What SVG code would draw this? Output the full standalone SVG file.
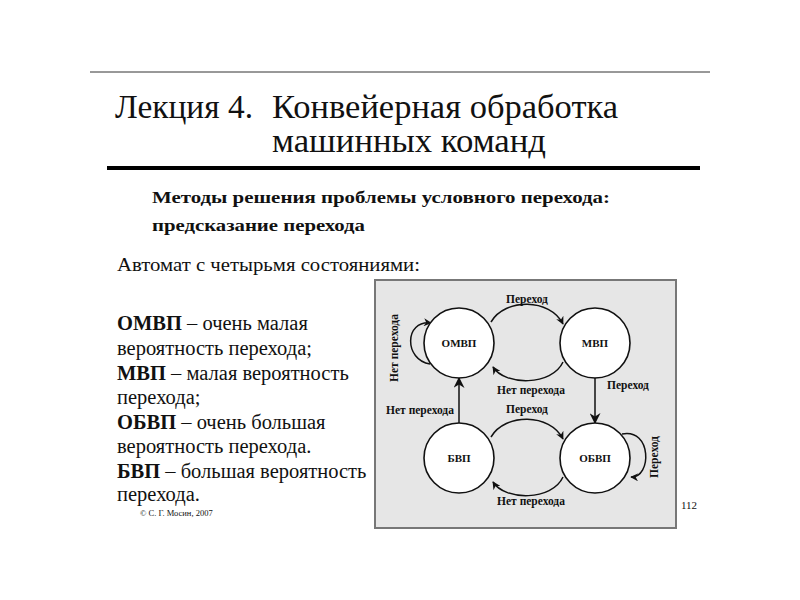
<svg xmlns="http://www.w3.org/2000/svg" width="800" height="600" viewBox="0 0 800 600">
<style>
.ser{font-family:"Liberation Serif","Times New Roman",serif;fill:#111}
.b{font-weight:bold}
.st{fill:#fff;stroke:#111;stroke-width:1.6}
.sl{font-family:"Liberation Serif","Times New Roman",serif;font-weight:bold;font-size:11.5px;fill:#111;text-anchor:middle}
.cn{fill:none;stroke:#111;stroke-width:1.5}
.nl{font-family:"Liberation Serif","Times New Roman",serif;font-weight:bold;font-size:11px;fill:#111;text-anchor:middle}
</style>
<defs>
<marker id="ah" viewBox="0 0 10 10" refX="9" refY="5" markerWidth="8" markerHeight="8" markerUnits="userSpaceOnUse" orient="auto">
<path d="M0,0 L10,5 L0,10 L3,5 Z" fill="#111"/>
</marker>
<marker id="ahs" viewBox="0 0 10 10" refX="9" refY="5" markerWidth="11" markerHeight="11" markerUnits="userSpaceOnUse" orient="auto">
<path d="M0,0 L10,5 L0,10 L3,5 Z" fill="#111"/>
</marker>
</defs>
<rect width="800" height="600" fill="#fff"/>
<line x1="90" y1="72" x2="710" y2="72" stroke="#333" stroke-width="1"/>
<text class="ser" x="115" y="118" font-size="33" textLength="138" lengthAdjust="spacingAndGlyphs">Лекция 4.</text>
<text class="ser" x="272" y="118" font-size="33" textLength="346" lengthAdjust="spacingAndGlyphs">Конвейерная обработка</text>
<text class="ser" x="272" y="152" font-size="33" textLength="274" lengthAdjust="spacingAndGlyphs">машинных команд</text>
<line x1="107" y1="168" x2="700" y2="168" stroke="#000" stroke-width="4"/>
<text class="ser b" x="152" y="203" font-size="17.5" textLength="458" lengthAdjust="spacingAndGlyphs">Методы решения проблемы условного перехода:</text>
<text class="ser b" x="152" y="231" font-size="17.5" textLength="213" lengthAdjust="spacingAndGlyphs">предсказание перехода</text>
<text class="ser" x="117" y="271" font-size="19" textLength="303" lengthAdjust="spacingAndGlyphs">Автомат с четырьмя состояниями:</text>
<g class="ser" font-size="20.5">
<text x="117" y="330"><tspan class="b">ОМВП</tspan> – очень малая</text>
<text x="117" y="355">вероятность перехода;</text>
<text x="117" y="380"><tspan class="b">МВП</tspan> – малая вероятность</text>
<text x="117" y="404">перехода;</text>
<text x="117" y="429"><tspan class="b">ОБВП</tspan> – очень большая</text>
<text x="117" y="453">вероятность перехода.</text>
<text x="117" y="478"><tspan class="b">БВП</tspan> – большая вероятность</text>
<text x="117" y="501">перехода.</text>
</g>
<text class="ser" x="140" y="516" font-size="8.5">© С. Г. Мосин, 2007</text>
<text class="ser" x="681" y="509" font-size="11">112</text>
<rect x="375" y="280" width="301" height="248" fill="#e6e6e6" stroke="#777" stroke-width="2"/>
<g id="connectors">
<path class="cn" d="M491,322 C505,298 550,298 563,324" marker-end="url(#ah)"/>
<path class="cn" d="M563,362 C552,386 505,386 493,367" marker-end="url(#ah)"/>
<path class="cn" d="M491,437 C505,413 550,413 563,439" marker-end="url(#ah)"/>
<path class="cn" d="M563,477 C552,501 505,501 493,482" marker-end="url(#ah)"/>
<path class="cn" d="M595,378 L595,423" marker-end="url(#ahs)"/>
<path class="cn" d="M459,423 L459,378" marker-end="url(#ahs)"/>
<path class="cn" d="M430,364 C404,360 404,320 431,323" marker-end="url(#ah)"/>
<path class="cn" d="M622,434 C652,428 652,478 631,477" marker-end="url(#ah)"/>
<text class="sl" x="527" y="303">Переход</text>
<text class="sl" x="531" y="394">Нет перехода</text>
<text class="sl" x="628" y="389">Переход</text>
<text class="sl" x="420" y="414">Нет перехода</text>
<text class="sl" x="527" y="413">Переход</text>
<text class="sl" x="531" y="505">Нет перехода</text>
<text class="sl" transform="translate(398,348) rotate(-90)">Нет перехода</text>
<text class="sl" transform="translate(658,457) rotate(-90)">Переход</text>
</g>
<g id="omvp"><circle class="st" cx="459" cy="343" r="35"/><text class="nl" x="459" y="347">ОМВП</text></g>
<g id="mvp"><circle class="st" cx="595" cy="343" r="35"/><text class="nl" x="595" y="347">МВП</text></g>
<g id="bvp"><circle class="st" cx="459" cy="458" r="35"/><text class="nl" x="459" y="462">БВП</text></g>
<g id="obvp"><circle class="st" cx="595" cy="458" r="35"/><text class="nl" x="595" y="462">ОБВП</text></g>
</svg>
